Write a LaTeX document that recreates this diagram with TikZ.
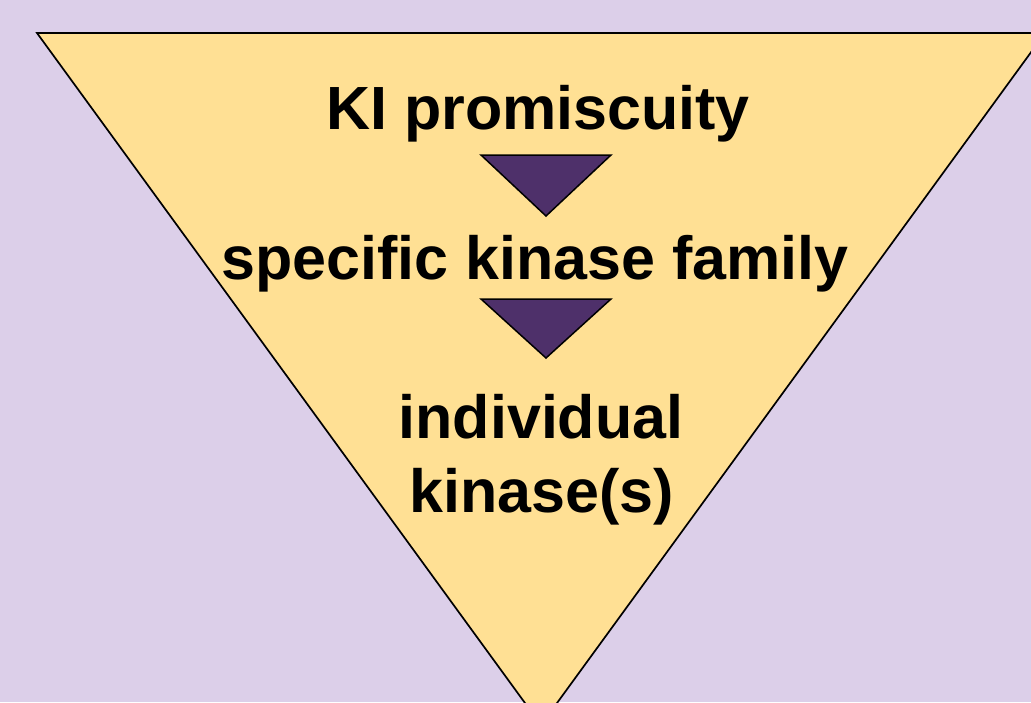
\documentclass[tikz,border=0pt]{standalone}
\usepackage{fontspec}
\setmainfont{Liberation Sans}
\definecolor{lavender}{RGB}{220,207,233}
\definecolor{funnelfill}{RGB}{255,224,148}
\definecolor{arrowpurple}{RGB}{78,48,106}
\begin{document}
\begin{tikzpicture}[x=1pt,y=-1pt,
  funnel/.style={fill=funnelfill,draw=black,line width=1.7pt,line join=miter},
  downtip/.style={fill=arrowpurple,draw=black,line width=1.5pt},
  label/.style={font=\fontsize{61}{74}\selectfont\bfseries,anchor=base,inner sep=0pt,align=center}]
  \useasboundingbox (0,0) rectangle (1031,702);
  \clip (0,0) rectangle (1031,702);
  \fill[lavender] (0,0) rectangle (1031,702);
  % large funnel
  \coordinate (tl) at (37,33);
  \coordinate (tr) at (1045,33);
  \coordinate (apex) at (541,725);
  \draw[funnel] (tl) -- (tr) -- (apex) -- cycle;
  % labels
  \node[label] (t1) at (538,129) {KI promiscuity};
  \node[label] (t2) at (535,279) {specific kinase family};
  \node[label] (t3) at (541,438) {individual};
  \node[label] (t4) at (542,512) {kinase(s)};
  % small downward arrows between the labels
  \draw[downtip] (481,155) -- (611,155) -- (546,216) -- cycle;
  \draw[downtip] (481,299) -- (611,299) -- (546,358) -- cycle;
\end{tikzpicture}
\end{document}
